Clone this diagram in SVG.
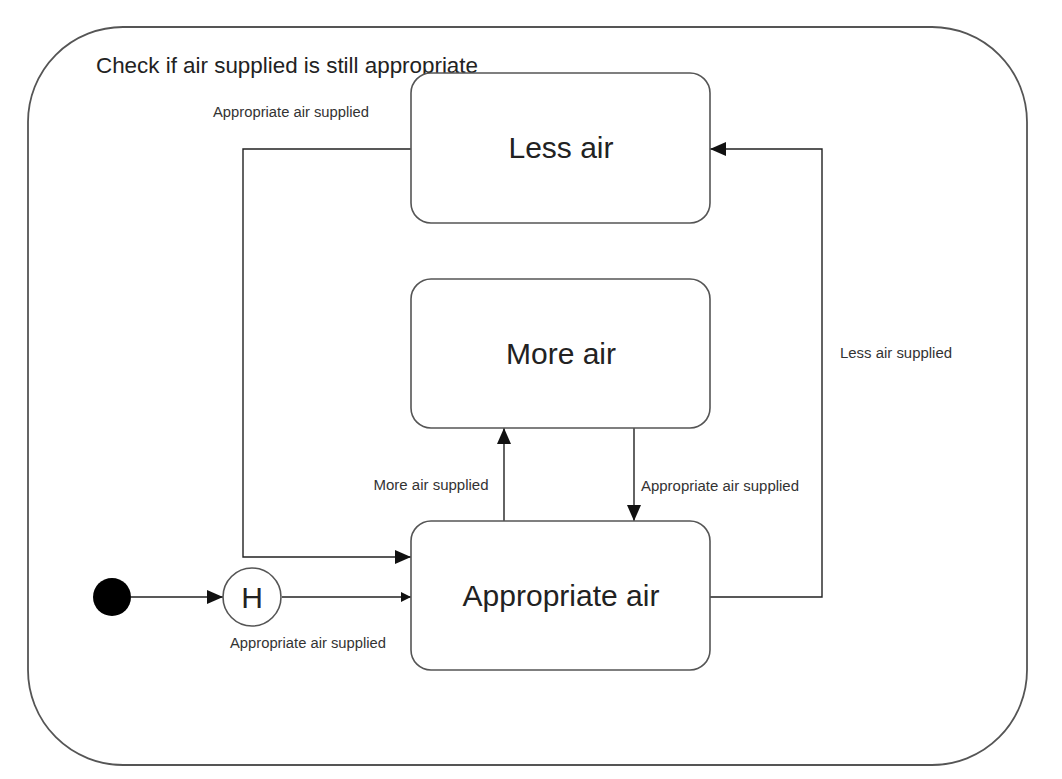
<svg xmlns="http://www.w3.org/2000/svg" width="1062" height="779" viewBox="0 0 1062 779">
<defs>
<marker id="arr" viewBox="0 0 10 10" refX="10" refY="5" markerWidth="10" markerHeight="10" markerUnits="userSpaceOnUse" orient="auto">
<path d="M0,0 L10,5 L0,10 z" fill="#111"/>
</marker>
<marker id="arrL" viewBox="0 0 16 14" refX="16" refY="7" markerWidth="16" markerHeight="14" markerUnits="userSpaceOnUse" orient="auto">
<path d="M0,0 L16,7 L0,14 z" fill="#111"/>
</marker>
</defs>
<style>
.state{fill:#fff;stroke:#555;stroke-width:1.6}
.big{font-family:"Liberation Sans",Arial,sans-serif;font-size:30px;fill:#222;text-anchor:middle}
.lbl{font-family:"Liberation Sans",Arial,sans-serif;font-size:14px;fill:#333;text-anchor:middle}
.edge{fill:none;stroke:#222;stroke-width:1.4}
</style>
<rect width="1062" height="779" fill="#fff"/>
<g id="composite">
<rect x="28" y="27" width="999" height="738" rx="95" ry="95" fill="none" stroke="#555" stroke-width="1.8"/>
<text x="96" y="73" font-family="Liberation Sans,Arial,sans-serif" font-size="22" fill="#222" textLength="382" lengthAdjust="spacingAndGlyphs">Check if air supplied is still appropriate</text>
</g>
<g id="connectors">
<line class="edge" x1="131" y1="597" x2="223" y2="597" marker-end="url(#arrL)"/>
<line class="edge" x1="282" y1="597" x2="411" y2="597" marker-end="url(#arr)"/>
<polyline class="edge" points="411,149 243,149 243,557 411,557" marker-end="url(#arrL)"/>
<line class="edge" x1="504" y1="521" x2="504" y2="428" marker-end="url(#arrL)"/>
<line class="edge" x1="634" y1="428" x2="634" y2="521" marker-end="url(#arrL)"/>
<polyline class="edge" points="710,597 822,597 822,149 710,149" marker-end="url(#arrL)"/>
<text class="lbl" x="291" y="117" textLength="156" lengthAdjust="spacingAndGlyphs">Appropriate air supplied</text>
<text class="lbl" x="308" y="648" textLength="156" lengthAdjust="spacingAndGlyphs">Appropriate air supplied</text>
<text class="lbl" x="431" y="490" textLength="115" lengthAdjust="spacingAndGlyphs">More air supplied</text>
<text class="lbl" x="720" y="491" textLength="158" lengthAdjust="spacingAndGlyphs">Appropriate air supplied</text>
<text class="lbl" x="896" y="358" textLength="112" lengthAdjust="spacingAndGlyphs">Less air supplied</text>
</g>
<g id="initial">
<circle cx="112" cy="597" r="19" fill="#000"/>
</g>
<g id="history">
<circle cx="252" cy="597" r="29" fill="#fff" stroke="#555" stroke-width="1.6"/>
<text x="252" y="608" font-family="Liberation Sans,Arial,sans-serif" font-size="30" fill="#222" text-anchor="middle">H</text>
</g>
<g id="less-air">
<rect class="state" x="411" y="73" width="299" height="150" rx="20"/>
<text class="big" x="561" y="158">Less air</text>
</g>
<g id="more-air">
<rect class="state" x="411" y="279" width="299" height="149" rx="20"/>
<text class="big" x="561" y="364">More air</text>
</g>
<g id="appropriate-air">
<rect class="state" x="411" y="521" width="299" height="149" rx="20"/>
<text class="big" x="561" y="606">Appropriate air</text>
</g>
</svg>
